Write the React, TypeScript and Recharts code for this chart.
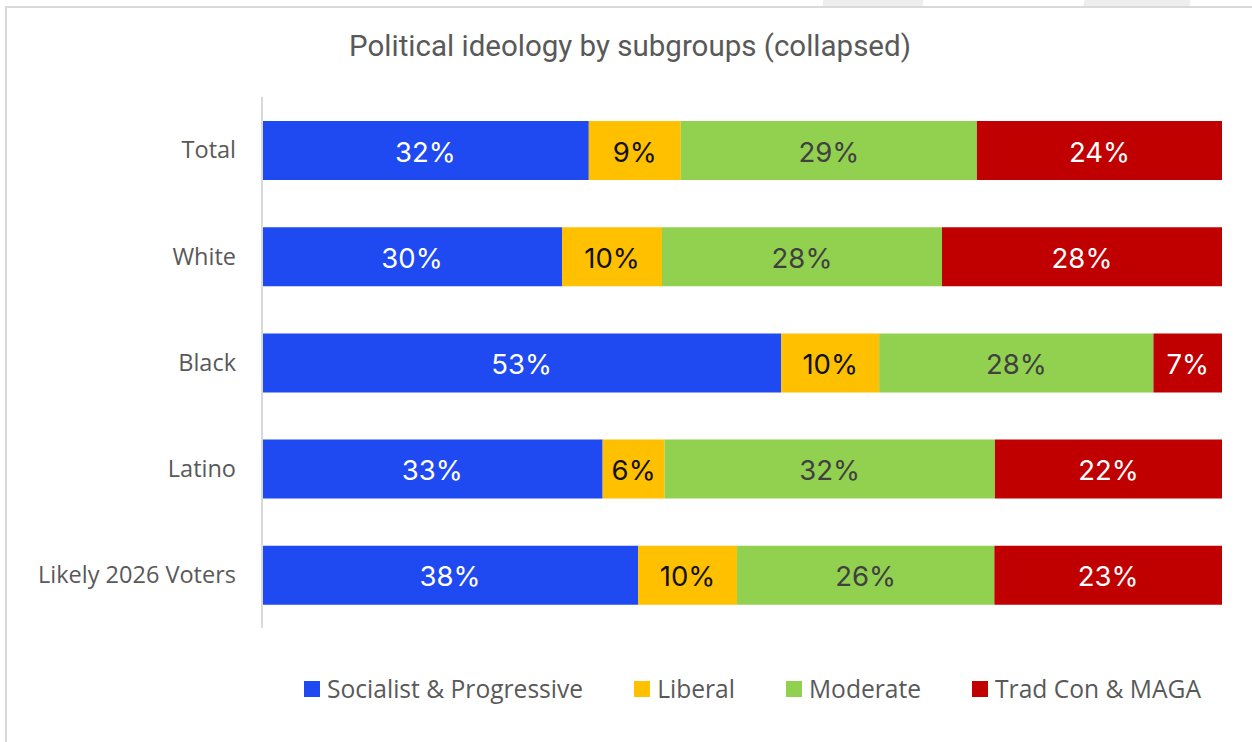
import { BarChart, Bar, XAxis, YAxis, LabelList } from 'recharts';

const groups = ['Total', 'White', 'Black', 'Latino', 'Likely 2026 Voters'];
const socialist = [32, 30, 53, 33, 38];
const liberal = [9, 10, 10, 6, 10];
const moderate = [29, 28, 28, 32, 26];
const tradCon = [24, 28, 7, 22, 23];

const series = [
  { key: 'soc', name: 'Socialist & Progressive', values: socialist, color: '#1F4AF2', text: '#ffffff' },
  { key: 'lib', name: 'Liberal', values: liberal, color: '#FFC000', text: '#111111' },
  { key: 'mod', name: 'Moderate', values: moderate, color: '#92D050', text: '#404040' },
  { key: 'trad', name: 'Trad Con & MAGA', values: tradCon, color: '#C00000', text: '#ffffff' },
];

const data = groups.map((name, i) => ({
  name,
  soc: socialist[i],
  lib: liberal[i],
  mod: moderate[i],
  trad: tradCon[i],
}));

const makeLabel = (values: number[], color: string) => (props: any) => {
  const { x, y, width, height, index } = props;
  return (
    <text
      x={x + width / 2}
      y={y + height / 2}
      dy={1}
      textAnchor="middle"
      dominantBaseline="central"
      fill={color}
      fontFamily="Inter, sans-serif"
      fontSize={27.5}
    >
      {`${values[index]}%`}
    </text>
  );
};

const LegendRow = () => (
  <div
    style={{
      position: 'absolute',
      top: 672,
      left: 304,
      display: 'flex',
      alignItems: 'center',
      fontFamily: '"Open Sans", sans-serif',
      fontSize: 24.6,
      color: '#595959',
      whiteSpace: 'nowrap',
    }}
  >
    {series.map((s, i) => (
      <div key={s.key} style={{ display: 'flex', alignItems: 'center', marginRight: i < 3 ? 51 : 0 }}>
        <span style={{ width: 16, height: 16, background: s.color, marginRight: 7, display: 'inline-block' }} />
        <span>{s.name}</span>
      </div>
    ))}
  </div>
);

export default function App() {
  return (
    <div style={{ position: 'absolute', left: 0, top: 0, width: 1252, height: 742, background: '#fff', overflow: 'hidden' }}>
      {/* slide decoration at the top */}
      <div style={{ position: 'absolute', top: -2, left: 823, width: 100, height: 9, background: '#eeeeee', transform: 'skewX(-8deg)' }} />
      <div style={{ position: 'absolute', top: -2, left: 1084, width: 106, height: 9, background: '#eeeeee', transform: 'skewX(-8deg)' }} />
      <div style={{ position: 'absolute', top: 6, left: 5, width: 1260, height: 760, border: '2px solid #d9d9d9', boxSizing: 'border-box' }} />
      <div
        style={{
          position: 'absolute',
          top: 29,
          left: 0,
          width: 1260,
          textAlign: 'center',
          fontFamily: 'Roboto, sans-serif',
          fontSize: 29.5,
          color: '#595959',
        }}
      >
        Political ideology by subgroups (collapsed)
      </div>
      <div style={{ position: 'absolute', left: 0, top: 0 }}>
        <BarChart
          width={1252}
          height={742}
          data={data}
          layout="vertical"
          stackOffset="expand"
          barSize={59}
          margin={{ top: 97, right: 30, bottom: 114, left: 0 }}
        >
          <XAxis type="number" hide domain={[0, 1]} />
          <YAxis
            type="category"
            dataKey="name"
            width={262}
            axisLine={{ stroke: '#d9d9d9', strokeWidth: 2 }}
            tickLine={false}
            tickSize={0}
            tickMargin={26}
            tick={{ fontSize: 23.5, fill: '#595959', fontFamily: '"Open Sans", sans-serif' }}
          />
          {series.map((s) => (
            <Bar key={s.key} dataKey={s.key} name={s.name} stackId="a" fill={s.color} isAnimationActive={false}>
              <LabelList dataKey={s.key} content={makeLabel(s.values, s.text)} />
            </Bar>
          ))}
        </BarChart>
      </div>
      <LegendRow />
    </div>
  );
}
